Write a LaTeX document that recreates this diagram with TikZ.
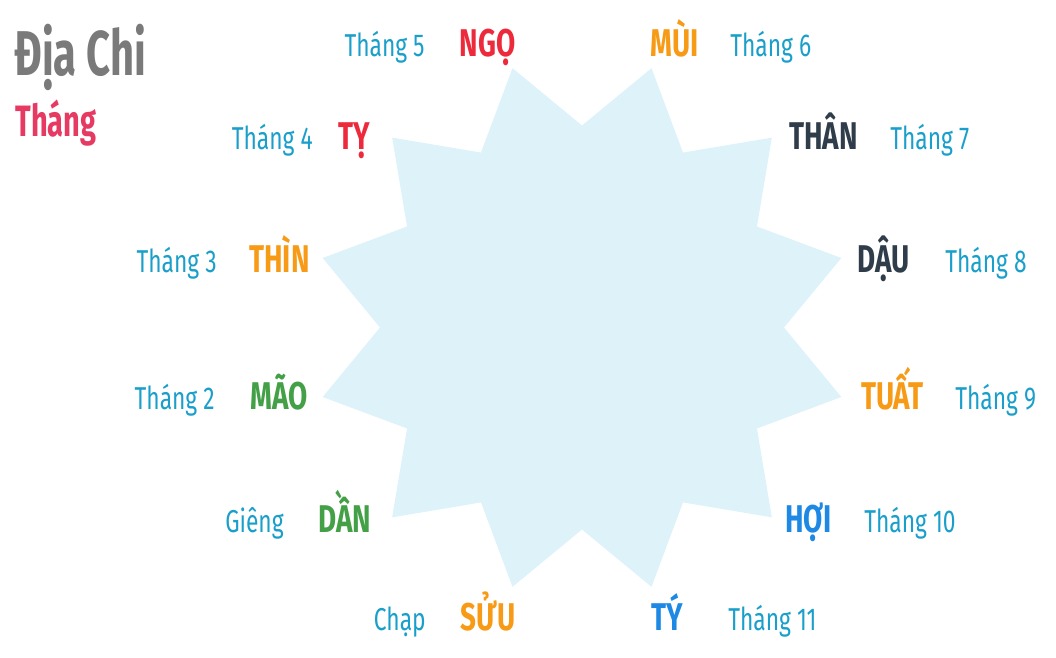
\documentclass[tikz,border=0pt]{standalone}
\usepackage{fontspec}
\usepackage{xcolor}
\usepackage{tikz}
\newfontfamily\dcreg{Fira Sans}[FakeStretch=0.72]
\newfontfamily\dcbold{Fira Sans}[FakeStretch=0.72]
\newfontfamily\dcheavy{Fira Sans}[FakeStretch=0.66]
\definecolor{dcsky}{HTML}{DEF2FA}
\definecolor{dcmonthblue}{HTML}{1A9FCB}
\definecolor{dcred}{HTML}{EC2A3C}
\definecolor{dcorange}{HTML}{F79B17}
\definecolor{dcgreen}{HTML}{43A047}
\definecolor{dcblue}{HTML}{1E88E5}
\definecolor{dcdark}{HTML}{2E3D49}
\definecolor{dcgray}{HTML}{7A7A7A}
\definecolor{dcpink}{HTML}{E63A63}
\tikzset{
  dcstar/.style={fill=dcsky, draw=none},
  dcbranch/.style={inner sep=0pt, anchor=base, font=\dcbold\bfseries\fontsize{22}{22}\selectfont},
  dcmonthl/.style={inner sep=0pt, anchor=base east, text=dcmonthblue, font=\dcreg\fontsize{18}{18}\selectfont},
  dcmonthr/.style={inner sep=0pt, anchor=base west, text=dcmonthblue, font=\dcreg\fontsize{18}{18}\selectfont},
  dctitle/.style={inner sep=0pt, anchor=base west, font=\dcheavy\bfseries\fontsize{36}{36}\selectfont},
  dcsub/.style={inner sep=0pt, anchor=base west, font=\dcheavy\bfseries\fontsize{25}{25}\selectfont},
}
\begin{document}
\begin{tikzpicture}
\useasboundingbox (0.000,0.000) rectangle (21.120,13.160);
% star
\fill[dcstar] (15.680,6.610) -- (16.827,8.000) -- (15.139,8.630) -- (15.437,10.407)
  -- (13.660,10.109) -- (13.030,11.797) -- (11.640,10.650) -- (10.250,11.797)
  -- (9.620,10.109) -- (7.843,10.407) -- (8.141,8.630) -- (6.453,8.000)
  -- (7.600,6.610) -- (6.453,5.220) -- (8.141,4.590) -- (7.843,2.813)
  -- (9.620,3.111) -- (10.250,1.423) -- (11.640,2.570) -- (13.030,1.423)
  -- (13.660,3.111) -- (15.437,2.813) -- (15.139,4.590) -- (16.827,5.220) -- cycle;
% title
\node[dctitle, text=dcgray] (title) at (0.280,11.640) {Địa Chi};
\node[dcsub, text=dcpink] (subtitle) at (0.300,10.420) {Tháng};
% branches
\node[dcbranch, text=dcred] (ngo) at (9.750,12.020) {NGỌ};
\node[dcbranch, text=dcorange] (mui) at (13.490,12.020) {MÙI};
\node[dcbranch, text=dcred] (ty) at (7.080,10.160) {TỴ};
\node[dcbranch, text=dcdark] (than) at (16.470,10.160) {THÂN};
\node[dcbranch, text=dcorange] (thin) at (5.590,7.700) {THÌN};
\node[dcbranch, text=dcdark] (dau) at (17.680,7.700) {DẬU};
\node[dcbranch, text=dcgreen] (mao) at (5.590,4.960) {MÃO};
\node[dcbranch, text=dcorange] (tuat) at (17.850,4.960) {TUẤT};
\node[dcbranch, text=dcgreen] (dan) at (6.900,2.500) {DẦN};
\node[dcbranch, text=dcblue] (hoi) at (16.170,2.500) {HỢI};
\node[dcbranch, text=dcorange] (suu) at (9.760,0.540) {SỬU};
\node[dcbranch, text=dcblue] (tyrat) at (13.350,0.540) {TÝ};
% months
\node[dcmonthl] (m5) at (8.500,12.020) {Tháng 5};
\node[dcmonthr] (m6) at (14.600,12.020) {Tháng 6};
\node[dcmonthl] (m4) at (6.260,10.160) {Tháng 4};
\node[dcmonthr] (m7) at (17.800,10.160) {Tháng 7};
\node[dcmonthl] (m3) at (4.340,7.700) {Tháng 3};
\node[dcmonthr] (m8) at (18.900,7.700) {Tháng 8};
\node[dcmonthl] (m2) at (4.300,4.960) {Tháng 2};
\node[dcmonthr] (m9) at (19.100,4.960) {Tháng 9};
\node[dcmonthl] (m1) at (5.680,2.500) {Giêng};
\node[dcmonthr] (m10) at (17.280,2.500) {Tháng 10};
\node[dcmonthl] (m12) at (8.520,0.540) {Chạp};
\node[dcmonthr] (m11) at (14.560,0.540) {Tháng 11};
\end{tikzpicture}
\end{document}
